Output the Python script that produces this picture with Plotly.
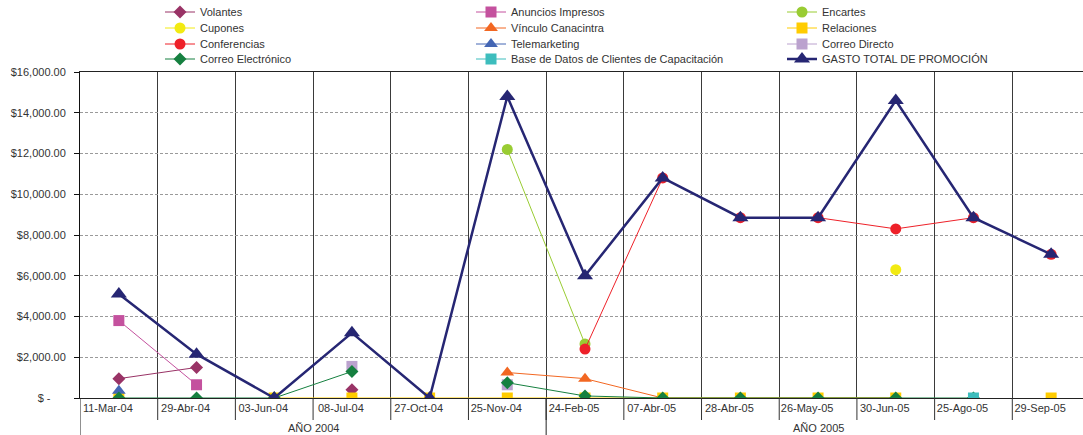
import plotly.graph_objects as go

# Fechas de cada campaña (eje de categorías) y el año al que pertenecen
fechas = ["11-Mar-04", "29-Abr-04", "03-Jun-04", "08-Jul-04", "27-Oct-04", "25-Nov-04",
          "24-Feb-05", "07-Abr-05", "28-Abr-05", "26-May-05", "30-Jun-05", "25-Ago-05", "29-Sep-05"]
anios = ["AÑO 2004"] * 6 + ["AÑO 2005"] * 7

# Gasto por concepto (None = sin registro)
volantes = [950, 1500, None, 400, None, None, None, None, None, None, None, None, None]
anuncios_impresos = [3800, 650, None, None, None, None, None, None, None, None, None, None, None]
encartes = [None, None, None, None, None, 12200, 2650, None, None, None, None, None, None]
cupones = [None, None, None, None, None, None, None, None, None, None, 6300, None, None]
vinculo_canacintra = [None, None, None, None, None, 1250, 950, 0, 0, 0, 0, None, None]
relaciones = [0, None, 0, 0, 0, 0, 0, 0, 0, 0, 0, None, 0]
conferencias = [None, None, None, None, None, None, 2400, 10800, 8850, 8850, 8300, 8850, 7050]
telemarketing = [350, None, None, None, None, None, None, None, None, None, None, None, None]
correo_directo = [None, None, None, 1550, None, 650, None, None, None, None, None, None, None]
correo_electronico = [0, 0, 0, 1300, None, 750, 100, 0, 0, 0, 0, 0, None]
base_datos = [None, None, None, None, None, None, None, None, None, None, None, 0, None]
gasto_total = [5100, 2150, 0, 3200, 0, 14800, 6000, 10800, 8850, 8850, 14600, 8850, 7050]

# Ticks del eje de montos
y_ticks = [0, 2000, 4000, 6000, 8000, 10000, 12000, 14000, 16000]
y_labels = ["$ -\u00a0\u00a0\u00a0\u00a0\u00a0"] + [f"${v:,.2f}" for v in y_ticks[1:]]

series = [
    ("Volantes", volantes, "#993366", "diamond", 10, 1),
    ("Anuncios Impresos", anuncios_impresos, "#C4519E", "square", 11, 1),
    ("Encartes", encartes, "#99CC33", "circle", 11, 1),
    ("Cupones", cupones, "#F2EA12", "circle", 11, 1),
    ("Vínculo Canacintra", vinculo_canacintra, "#F26722", "triangle-up", 12, 1),
    ("Relaciones", relaciones, "#FFCC00", "square", 11, 1),
    ("Conferencias", conferencias, "#EE2129", "circle", 11, 1),
    ("Telemarketing", telemarketing, "#4466B4", "triangle-up", 12, 1),
    ("Correo Directo", correo_directo, "#BBA2CE", "square", 11, 1),
    ("Correo Electrónico", correo_electronico, "#168040", "diamond", 10, 1),
    ("Base de Datos de Clientes de Capacitación", base_datos, "#3DBDBD", "square", 11, 1),
    ("GASTO TOTAL DE PROMOCIÓN", gasto_total, "#262673", "triangle-up", 14, 2.5),
]

W, H = 1083, 435
font_family = "Liberation Sans, Arial, sans-serif"
text_color = "#333333"
n = len(fechas)

# Leyenda en 3 columnas: una leyenda horizontal por fila
legend_cols = 3
legend_row_px = [12, 28, 44, 59]
legend_names = ["legend"] + [f"legend{k}" for k in range(2, len(legend_row_px) + 1)]

fig = go.Figure()
for idx, (name, vals, color, symbol, size, width) in enumerate(series):
    fig.add_trace(go.Scatter(
        x=fechas, y=vals, name=name, mode="lines+markers",
        line=dict(color=color, width=width),
        marker=dict(color=color, symbol=symbol, size=size, line=dict(width=0)),
        connectgaps=False,
        legend=legend_names[idx // legend_cols],
    ))

shapes = []
# Extensión de las divisiones de categoría por debajo del eje
for i in range(1, n):
    shapes.append(dict(type="line", xref="x", yref="paper", x0=i - 0.5, x1=i - 0.5,
                       y0=0, y1=-0.0675, line=dict(color="#333333", width=1)))
# Separadores de año (más largos)
grupos = []
for i, a in enumerate(anios):
    if not grupos or grupos[-1][0] != a:
        grupos.append([a, i, i])
    else:
        grupos[-1][2] = i
for a, i0, i1 in grupos:
    shapes.append(dict(type="line", xref="x", yref="paper", x0=i0 - 0.5, x1=i0 - 0.5,
                       y0=0, y1=-0.12, line=dict(color="#222222", width=1)))

annotations = [
    dict(text=a, x=(i0 + i1) / 2, xref="x", y=-0.092, yref="paper", yanchor="middle",
         showarrow=False, font=dict(family=font_family, size=11, color=text_color))
    for a, i0, i1 in grupos
]

legend_layout = {}
for lname, row_px in zip(legend_names, legend_row_px):
    legend_layout[lname] = dict(
        orientation="h", xref="container", yref="container",
        x=160 / W, xanchor="left", y=1 - row_px / H, yanchor="middle",
        entrywidth=266, entrywidthmode="pixels", itemwidth=30,
        font=dict(family=font_family, size=11, color=text_color),
        bgcolor="rgba(0,0,0,0)", traceorder="normal",
    )

fig.update_layout(
    width=W, height=H,
    margin=dict(l=80, r=0, t=72, b=37, autoexpand=False),
    paper_bgcolor="white", plot_bgcolor="white",
    font=dict(family=font_family, size=11, color=text_color),
    showlegend=True,
    xaxis=dict(type="category", range=[-0.5, n - 0.59], tickson="boundaries",
               showgrid=True, gridcolor="#3a3a3a", gridwidth=1,
               showline=True, linecolor="#222222", linewidth=1, mirror=True,
               ticks="", ticklabelshift=-11, tickfont=dict(size=11, color=text_color),
               zeroline=False, fixedrange=True),
    yaxis=dict(range=[0, 16000], tickvals=y_ticks, ticktext=y_labels,
               showgrid=True, gridcolor="#9a9a9a", griddash="3px,2px", gridwidth=1,
               showline=True, linecolor="#111111", linewidth=1,
               ticks="outside", ticklen=5, tickcolor="#111111",
               ticklabelstandoff=6, tickfont=dict(size=11, color=text_color),
               zeroline=False),
    shapes=shapes,
    annotations=annotations,
    **legend_layout,
)

fig.write_html("out.html")
